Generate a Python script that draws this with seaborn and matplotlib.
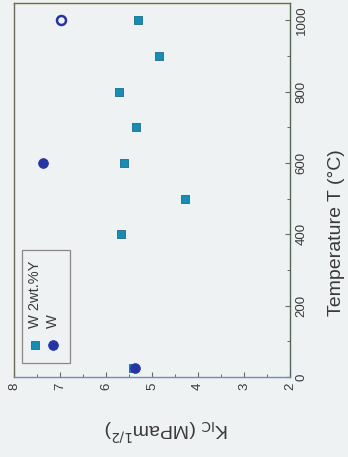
import matplotlib
matplotlib.use("Agg")
import matplotlib.pyplot as plt
import seaborn as sns
import pandas as pd
from matplotlib.patches import Rectangle

# Data
temp_wy = [25, 400, 500, 600, 700, 800, 900, 1000]
kic_wy = [5.42, 5.67, 4.28, 5.61, 5.35, 5.72, 4.85, 5.30]
temp_w = [25, 600]
kic_w = [5.37, 7.37]
temp_w_open = [1000]
kic_w_open = [6.98]
legend_labels = ["W 2wt.%Y", "W"]
x_ticks = [8, 7, 6, 5, 4, 3, 2]
y_ticks = [0, 200, 400, 600, 800, 1000]

sns.set_theme(style="white")
plt.rcParams['font.family'] = ['Liberation Sans', 'DejaVu Sans']

bg = "#eef2f2"
sq_col = "#1a8cb4"
ci_col = "#2634a6"
frame_col = "#6e6a4e"
txt_col = "#3a3a3a"

fig = plt.figure(figsize=(3.48, 4.57), dpi=100, facecolor=bg)
ax = fig.add_axes([14/348, 1-377/457, 276/348, 374/457], facecolor=bg)

df_wy = pd.DataFrame({"K": kic_wy, "T": temp_wy})
df_w = pd.DataFrame({"K": kic_w, "T": temp_w})
df_wo = pd.DataFrame({"K": kic_w_open, "T": temp_w_open})

sns.scatterplot(data=df_wy, x="K", y="T", marker="s", color=sq_col, s=40,
                edgecolor="#137090", linewidth=0.6, ax=ax, legend=False, zorder=3)
sns.scatterplot(data=df_w, x="K", y="T", marker="o", color=ci_col, s=50,
                edgecolor=ci_col, linewidth=0.5, ax=ax, legend=False, zorder=4)
sns.scatterplot(data=df_wo, x="K", y="T", marker="o", color=bg, s=42,
                edgecolor=ci_col, linewidth=1.8, ax=ax, legend=False, zorder=4)

ax.set_xlim(8, 2)
ax.set_ylim(0, 1048)
ax.set_xticks(x_ticks)
ax.set_xticks([7.5, 6.5, 5.5, 4.5, 3.5, 2.5], minor=True)
ax.set_yticks(y_ticks)
ax.set_yticks([100, 300, 500, 700, 900], minor=True)
ax.yaxis.tick_right()
ax.yaxis.set_label_position('right')
ax.set_xticklabels([str(v) for v in x_ticks], rotation=90, ha='center', va='top',
                   fontsize=9.5, color=txt_col)
ax.set_yticklabels([str(v) for v in y_ticks], rotation=90, ha='left', va='center',
                   fontsize=9.5, color=txt_col)
ax.tick_params(axis='both', which='major', direction='in', length=3.5, width=0.8,
               color=frame_col, bottom=True, right=True, left=False, pad=4)
ax.tick_params(axis='both', which='minor', direction='in', length=2, width=0.7,
               color=frame_col, bottom=True, right=True, left=False)
ax.set_xlabel(r"K$_{\rm IC}$ (MPam$^{1/2}$)", rotation=180, fontsize=14,
              color=txt_col)
ax.set_ylabel("Temperature T (°C)", rotation=90, fontsize=14, color=txt_col)
ax.xaxis.label.set(ha='center', va='center', rotation_mode='anchor')
ax.yaxis.label.set(ha='center', va='center', rotation_mode='anchor')
ax.xaxis.set_label_coords(0.551, -0.142)
ax.yaxis.set_label_coords(1.167, 0.385)
for sp in ax.spines.values():
    sp.set_visible(True)
    sp.set_color(frame_col)
    sp.set_linewidth(1.0)
ax.spines['bottom'].set_color("#7a8aa0")
ax.spines['right'].set_color("#556655")

# Manual (rotated) legend
ax.add_patch(Rectangle((0.029, 0.038), 0.174, 0.302, transform=ax.transAxes,
                       facecolor=bg, edgecolor="#8a8a80", linewidth=0.9, zorder=5))
ax.scatter([0.076], [0.086], transform=ax.transAxes, marker='s', s=40,
           color=sq_col, edgecolor="#137090", linewidth=0.6, zorder=6, clip_on=False)
ax.scatter([0.141], [0.086], transform=ax.transAxes, marker='o', s=50,
           color=ci_col, edgecolor=ci_col, linewidth=0.5, zorder=6, clip_on=False)
ax.text(0.076, 0.13, legend_labels[0], transform=ax.transAxes, rotation=90,
        ha='center', va='bottom', fontsize=10.5, color=txt_col, zorder=7)
ax.text(0.141, 0.13, legend_labels[1], transform=ax.transAxes, rotation=90,
        ha='center', va='bottom', fontsize=10.5, color=txt_col, zorder=7)

fig.savefig("out.png", dpi=100, facecolor=bg)
